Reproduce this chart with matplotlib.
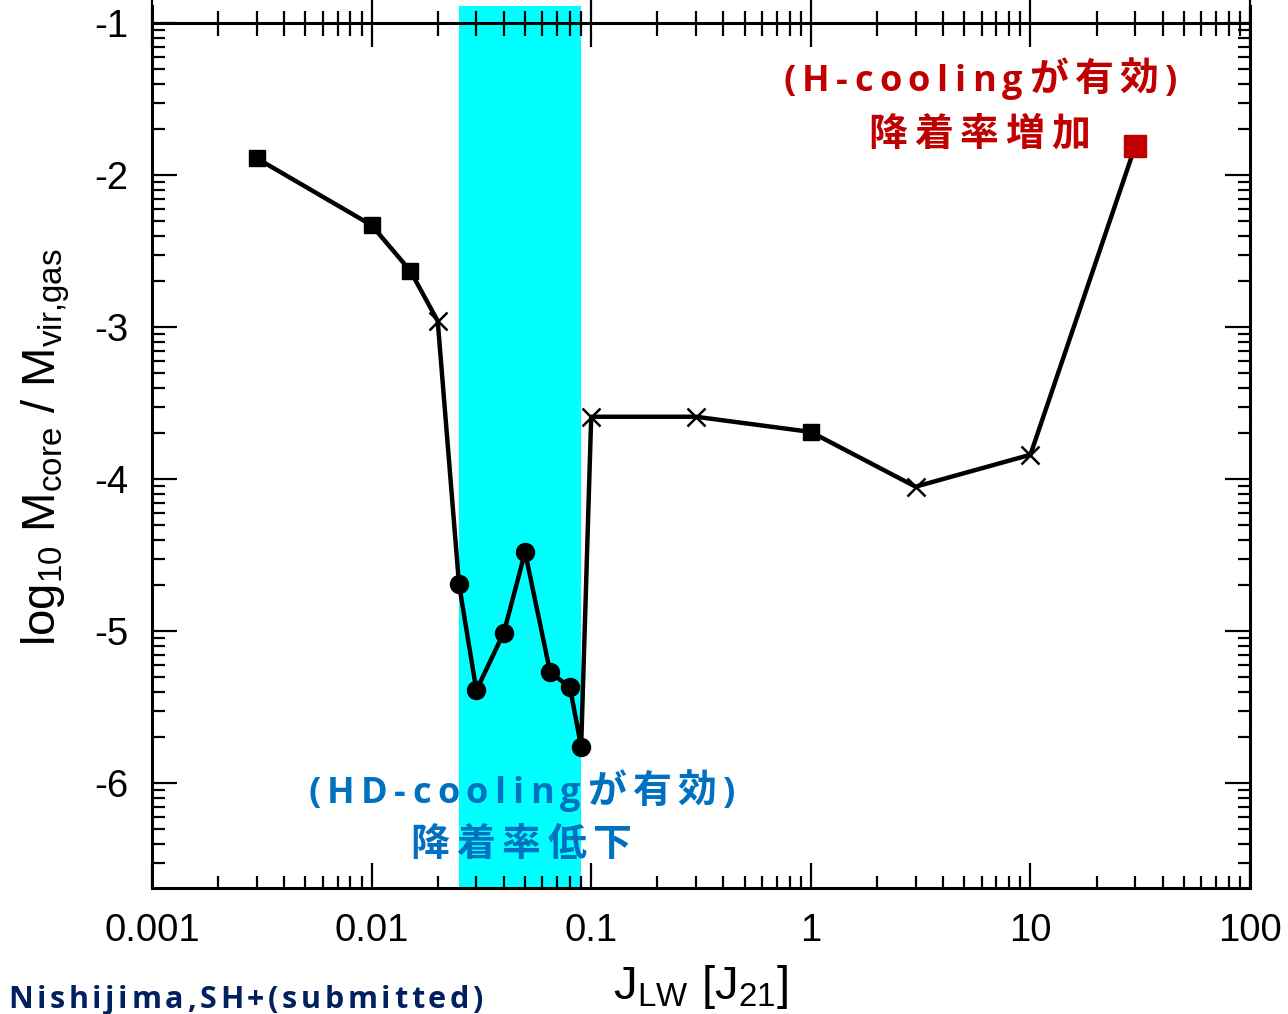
import numpy as np
import matplotlib.pyplot as plt
from matplotlib.ticker import FixedLocator, NullFormatter

plt.rcParams['font.family'] = ['Liberation Sans', 'DejaVu Sans']
plt.rcParams['mathtext.fontset'] = 'custom'
plt.rcParams['mathtext.rm'] = 'Liberation Sans'
plt.rcParams['mathtext.it'] = 'Liberation Sans'

# J_LW [J_21] and log10(M_core / M_vir,gas)
J_lw = [0.003, 0.01, 0.015, 0.02, 0.025, 0.03, 0.04, 0.05, 0.065, 0.08, 0.09,
        0.1, 0.3, 1.0, 3.0, 10.0, 30.0]
log_m = [-1.89, -2.33, -2.63, -2.96, -4.69, -5.39, -5.01, -4.48, -5.27, -5.37, -5.76,
         -3.59, -3.59, -3.69, -4.05, -3.84, -1.81]
kind = ['s', 's', 's', 'x', 'o', 'o', 'o', 'o', 'o', 'o', 'o',
        'x', 'x', 's', 'x', 'x', 'r']

hd_band = (0.025, 0.09)

W, H = 1288, 1014
fig = plt.figure(figsize=(W / 100, H / 100), dpi=100)
ax = fig.add_axes([152/W, 1 - 888/H, (1250-152)/W, (888-6)/H])

ax.axvspan(hd_band[0], hd_band[1], color='#00ffff', lw=0, zorder=0)

ax.plot(J_lw, log_m, color='black', lw=3.2, zorder=2)
for j, m, k in zip(J_lw, log_m, kind):
    if k == 's':
        ax.plot(j, m, 's', color='black', ms=12, zorder=3)
    elif k == 'o':
        ax.plot(j, m, 'o', color='black', ms=13, zorder=3)
    elif k == 'x':
        ax.plot(j, m, 'x', color='black', ms=13, mew=1.8, zorder=3)
    else:
        ax.plot(j, m, 's', color='#c00000', ms=16, zorder=3)

ax.set_xscale('log')
ax.set_xlim(0.001, 100)
ax.set_ylim(-6.69, -0.888)

ax.set_xticks([0.001, 0.01, 0.1, 1, 10, 100])
ax.set_xticklabels(['0.001', '0.01', '0.1', '1', '10', '100'])
ax.set_yticks([-1, -2, -3, -4, -5, -6])
ax.set_yticklabels(['-1', '-2', '-3', '-4', '-5', '-6'])
ymin = [n + np.log10(k) for n in range(-7, -1) for k in range(2, 10)]
ax.yaxis.set_minor_locator(FixedLocator(ymin))
ax.yaxis.set_minor_formatter(NullFormatter())

# top border sits at y = -1 with ticks crossing it
ax.spines['top'].set_position(('data', -1))
for s in ax.spines.values():
    s.set_linewidth(2.2)

ax.tick_params(axis='both', which='major', labelsize=27.5, width=1.6, length=18,
               direction='in', top=True, right=True)
ax.tick_params(axis='x', which='major', pad=18)
ax.tick_params(axis='y', which='major', pad=17)
ax.tick_params(axis='both', which='minor', width=1.6, length=9,
               direction='in', top=True, right=True)
ax.xaxis.set_tick_params(which='both', labeltop=False)
for t in ax.xaxis.get_major_ticks():
    t.tick2line.set_marker('|')
    t.tick2line.set_markersize(34)
for t in ax.xaxis.get_minor_ticks():
    t.tick2line.set_marker('|')
    t.tick2line.set_markersize(18)

ax.set_xlabel(r'$\mathregular{J_{LW}\ [J_{21}]}$', fontsize=34, labelpad=10)
ax.set_ylabel(r'$\mathregular{log_{10}\ M_{core}\ /\ M_{vir{,}gas}}$', fontsize=34, labelpad=16)

renderer = fig.canvas.get_renderer()
latin = ['Open Sans', 'DejaVu Sans']
cjk = ['Noto Sans CJK JP', 'DejaVu Sans']


def tracked_text(x0, x1, base, s, color, lsize, csize):
    # lay the string out glyph by glyph, spread evenly between x0 and x1 (pixels)
    kws = []
    for ch in s:
        if ord(ch) > 0x2e80:
            kws.append(dict(family=cjk, fontsize=csize))
        else:
            kws.append(dict(family=latin, fontsize=lsize))
    widths = []
    for ch, kw in zip(s, kws):
        t = fig.text(0, 0, ch, fontweight='bold', **kw)
        widths.append(t.get_window_extent(renderer).width)
        t.remove()
    gap = (x1 - x0 - sum(widths)) / (len(s) - 1)
    x = x0
    for ch, kw, w in zip(s, kws, widths):
        fig.text(x / W, 1 - base / H, ch, fontweight='bold', color=color,
                 ha='left', va='baseline', **kw)
        x += w + gap


tracked_text(783, 1177, 91, '(H-coolingが有効)', '#c00000', 26, 28)
tracked_text(868, 1090, 146, '降着率増加', '#c00000', 26, 28)
tracked_text(308, 735, 803, '(HD-coolingが有効)', '#0070c0', 26, 28)
tracked_text(410, 632, 856, '降着率低下', '#0070c0', 26, 28)
tracked_text(8, 483, 1008, 'Nishijima,SH+(submitted)', '#002060', 22, 22)

fig.savefig('out.png', dpi=100)
